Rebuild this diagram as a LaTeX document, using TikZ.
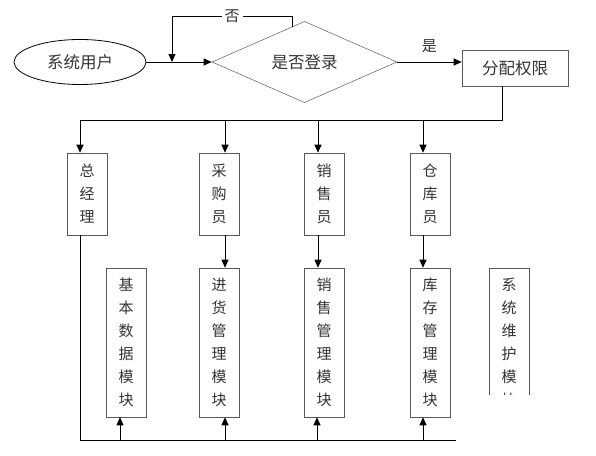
\documentclass[tikz,border=0pt]{standalone}
\usepackage{fontspec}
\newfontfamily\cjk{Noto Sans CJK SC}
\usetikzlibrary{shapes.geometric,arrows.meta,positioning}
\tikzset{
  conn/.style={line width=1pt, -{Triangle[length=8pt,width=7pt]}},
  wire/.style={line width=1pt},
  box/.style={draw=black!65, line width=0.6pt, inner sep=0pt, text=black!80},
  vtext/.style={font=\cjk\fontsize{15}{23}\selectfont, align=center},
  htext/.style={font=\cjk\fontsize{16.5}{20}\selectfont, text=black!80},
  rolebox/.style={box, vtext, minimum width=40pt, minimum height=82pt},
  modbox/.style={box, vtext, minimum width=40pt, minimum height=149pt},
}
\begin{document}
\begin{tikzpicture}[x=1pt, y=-1pt]
  \useasboundingbox (0,0) rectangle (596,455);
  % top row
  \node[ellipse, draw=black, line width=0.8pt, minimum width=132pt, minimum height=45pt, inner sep=0pt, htext] (user) at (80,62) {系统用户};
  \node[diamond, draw=black!65, line width=0.5pt, minimum width=185pt, minimum height=65pt, inner sep=0pt, htext] (login) at (304.5,62) {是否登录};
  \node[box, htext, minimum width=106pt, minimum height=36pt] (assign) at (515,68) {分配权限};
  \coordinate (join) at (172,62);
  \coordinate (loopend) at (292,27);
  \coordinate (looptop) at (172,16);
  \draw[conn] (user) -- (login);
  \draw[conn] (loopend) |- node[pos=0.75, fill=white, inner sep=3pt, htext, font=\cjk\fontsize{15}{18}\selectfont] {否} (looptop) -- (join);
  \draw[conn] (login.east) -- node[above=5pt, htext, font=\cjk\fontsize{15}{18}\selectfont] {是} (login.east -| assign.west);
  % roles
  \node[rolebox] (mgr) at (87,194) {总\\经\\理};
  \node[rolebox] (buyer) at (219,194) {采\\购\\员};
  \node[rolebox] (seller) at (324,194) {销\\售\\员};
  \node[rolebox] (keeper) at (430,194) {仓\\库\\员};
  \coordinate (busL) at (80,120);
  \coordinate (busR) at (502,120);
  \draw[wire] (assign.south -| busR) -- (busR) -- (busL);
  \foreach \x/\n in {80/mgr, 225/buyer, 318/seller, 423/keeper}
    \draw[conn] (\x,120) -- (\x,0 |- \n.north);
  % modules
  \node[modbox] (basic) at (126,342.5) {基\\本\\数\\据\\模\\块};
  \node[modbox] (purchase) at (219,342.5) {进\\货\\管\\理\\模\\块};
  \node[modbox] (sales) at (324,342.5) {销\\售\\管\\理\\模\\块};
  \node[modbox] (stock) at (430,342.5) {库\\存\\管\\理\\模\\块};
  \begin{scope}
    \clip (480,260) rectangle (540,394);
    \node[modbox] (maint) at (509,342.5) {系\\统\\维\\护\\模\\块};
  \end{scope}
  \draw[conn] ([xshift=6pt]buyer.south) -- ([xshift=6pt]purchase.north);
  \draw[conn] ([xshift=-6pt]seller.south) -- ([xshift=-6pt]sales.north);
  \draw[conn] ([xshift=-7pt]keeper.south) -- ([xshift=-7pt]stock.north);
  % bottom bus
  \coordinate (botL) at (80,440);
  \coordinate (botR) at (456,440);
  \draw[wire] ([xshift=-7pt]mgr.south) -- (botL) -- (botR);
  \foreach \x/\n in {120/basic, 225/purchase, 317/sales, 423/stock}
    \draw[conn] (\x,440) -- (\x,0 |- \n.south);
\end{tikzpicture}
\end{document}
